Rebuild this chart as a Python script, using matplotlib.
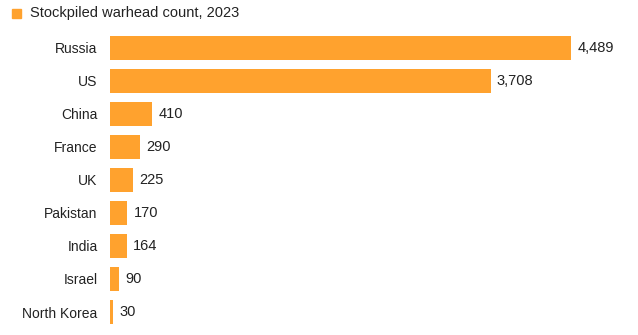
import matplotlib
matplotlib.use('Agg')
import matplotlib.pyplot as plt
from matplotlib.patches import Rectangle

countries = ["Russia", "US", "China", "France", "UK", "Pakistan", "India", "Israel", "North Korea"]
warheads = [4489, 3708, 410, 290, 225, 170, 164, 90, 30]
legend_label = "Stockpiled warhead count, 2023"

orange = "#FFA22E"
plt.rcParams['font.family'] = ['Liberation Sans', 'DejaVu Sans']

fig = plt.figure(figsize=(6.38, 3.35), dpi=100)
ax = fig.add_axes([110 / 638, 0.0194, 510 / 638, 0.8866])

ypos = list(range(len(countries)))
ax.barh(ypos, warheads, height=0.7, color=orange)
ax.set_ylim(len(countries) - 0.5, -0.5)
ax.set_xlim(0, 4489 * 510 / 461)

for y, v in zip(ypos, warheads):
    ax.text(v + 60, y, f"{v:,}", va='center', ha='left', fontsize=10.5, color='#222222')

ax.set_yticks(ypos)
ax.set_yticklabels(countries, fontsize=10, color='#222222')
ax.tick_params(axis='y', length=0, pad=9)
ax.set_xticks([])
for s in ax.spines.values():
    s.set_visible(False)

# legend entry in the top-left corner
fig.patches.append(Rectangle((12 / 638, 1 - 18 / 335), 9 / 638, 9 / 335,
                             transform=fig.transFigure, color=orange))
fig.text(30 / 638, 1 - 13 / 335, legend_label, fontsize=10.5, va='center', ha='left', color='#222222')

fig.savefig('out.png', dpi=100)
